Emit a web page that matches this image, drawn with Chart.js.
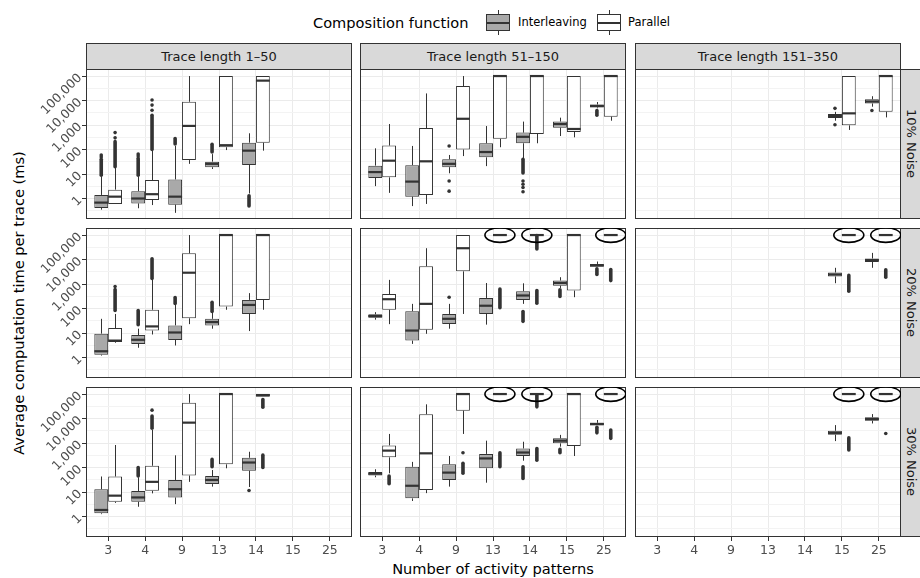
<!DOCTYPE html>
<html>
<head>
<meta charset="utf-8">
<title>Average computation time per trace</title>
<script src="https://cdn.jsdelivr.net/npm/chart.js@4.4.1/dist/chart.umd.min.js"></script>
<style>
    html, body { margin: 0; padding: 0; background: #fff; }
    #page { position: relative; width: 920px; height: 578px; overflow: hidden; font-family: 'DejaVu Sans', sans-serif; }
    #page canvas { position: absolute; }
    .strip { position: absolute; background: #d9d9d9; border: 1px solid #333; box-sizing: border-box; color: #1a1a1a;
             font-size: 13px; display: flex; align-items: center; justify-content: center; white-space: nowrap; }
    .strip.top { top: 43px; height: 26px; width: 266px; border-bottom: none; }
    .strip.side { left: 901px; width: 20px; height: 150px; border-left: none; border-right: none; writing-mode: vertical-rl; }
    .txt { position: absolute; white-space: nowrap; }
    .key { position: absolute; top: 10px; width: 24px; height: 25px; }
    .key .wh { position: absolute; left: 11.5px; top: 0; width: 1px; height: 25px; background: #333; }
    .key .bx { position: absolute; left: 0; top: 4px; width: 24px; height: 17px; border: 1px solid #333; box-sizing: border-box; }
    .key .md { position: absolute; left: 0; top: 11.5px; width: 24px; height: 2px; background: #333; }
</style>
</head>
<body>
<div id="page">
    <div class="txt" style="left:313px; top:22px; transform:translateY(-50%); font-size:14.6px;">Composition function</div>
    <div class="key" style="left:486px;"><div class="wh"></div><div class="bx" style="background:#a9a9a9;"></div><div class="md"></div></div>
    <div class="txt" style="left:518px; top:22px; transform:translateY(-50%); font-size:11.5px;">Interleaving</div>
    <div class="key" style="left:597px;"><div class="wh"></div><div class="bx" style="background:#fff;"></div><div class="md"></div></div>
    <div class="txt" style="left:628px; top:22px; transform:translateY(-50%); font-size:11.5px;">Parallel</div>
    <div class="txt" style="left:18px; top:303px; transform:translate(-50%, -50%) rotate(-90deg); font-size:14.6px;">Average computation time per trace (ms)</div>
    <div class="txt" style="left:493px; top:568px; transform:translate(-50%, -50%); font-size:14.6px;">Number of activity patterns</div>
</div>
<script>
'use strict';

var patterns = ['3', '4', '9', '13', '14', '15', '25'];
var traceLengths = ['Trace length 1\u201350', 'Trace length 51\u2013150', 'Trace length 151\u2013350'];
var noiseLevels = ['10% Noise', '20% Noise', '30% Noise'];
var yLabelTicks = [1, 10, 100, 1000, 10000, 100000];
var yMinorTicks = [0.316, 3.16, 31.6, 316, 3162, 31623];

var T = 100000; // timeout cap

// per pattern: [lower whisker, Q1, median, Q3, upper whisker, outliers ([a, b] = dense run)]
var inter_n10_t1 = [
    [0.35, 0.41, 0.68, 1.4, 8, [[9, 40], 50, 60]],
    [0.4, 0.63, 1.0, 2.0, 8, [[9, 44], 55, 66]],
    [0.26, 0.56, 1.19, 6, 140, [[170, 280]]],
    [16, 19, 26, 32, 65, [[80, 165]]],
    [1.6, 23.5, 90, 190, 460, [[0.5, 1.3]]],
    null, null
];
var par_n10_t1 = [
    [0.6, 0.6, 1.19, 2.3, 18, [[20, 210], 300, 490]],
    [0.54, 0.87, 1.5, 5.7, 90, [[100, 2500], 4000, 6500, 10500]],
    [26, 37, 920, 8900, T],
    [95, 124, 150, T, T],
    [90, 190, 65000, T, T],
    null, null
];
var inter_n10_t2 = [
    [3.2, 6.9, 12, 22, 112],
    [0.49, 1.19, 4.9, 23, 140],
    [10.7, 19, 26, 40, 60, [140, 5.2, 2.0]],
    [21, 48, 79, 180, 910],
    [44, 180, 330, 490, 1380, [[11, 40], 5.2, 3.8, 2.8, 1.9]],
    [355, 780, 1100, 1390, 2000],
    [4800, 5250, 6000, 6900, 8700, [[2500, 3900]]]
];
var par_n10_t2 = [
    [1.7, 7.3, 35, 145, 1100],
    [0.6, 1.4, 33, 750, 19500],
    [54, 100, 1800, 39000, T],
    [124, 275, T, T, T],
    [180, 430, T, T, T],
    [315, 520, 690, T, T],
    [1500, 2200, T, T, T]
];
var inter_n10_t3 = [null, null, null, null, null,
    [1500, 1950, 2350, 2800, 3450, [4800, 1020]],
    [5600, 7600, 9100, 11200, 15000, [3900]]
];
var par_n10_t3 = [null, null, null, null, null,
    [630, 970, 3000, T, T],
    [2050, 3500, T, T, T]
];

var inter_n20_t1 = [
    [1.2, 1.3, 1.8, 9.4, 38],
    [2.5, 3.6, 5.3, 8.2, 15, [[22, 83]]],
    [3.1, 5.2, 10.5, 20.5, 150, [[160, 280]]],
    [15, 20.5, 28, 38, 70, [[76, 180]]],
    [12, 60, 140, 225, 425],
    null, null
];
var par_n20_t1 = [
    [4.0, 4.3, 4.9, 16, 60, [[83, 600], 790]],
    [8.7, 12.6, 18.6, 89, 1500, [[1700, 10700]]],
    [23, 40, 2900, 18000, T],
    [89, 120, T, T, T],
    [89, 225, T, T, T],
    null, null
];
var inter_n20_t2 = [
    [35, 42, 49, 58, 71],
    [3.6, 4.9, 12.6, 78, 155],
    [15, 23.5, 38, 60, 155, [290]],
    [22, 60, 130, 270, 1100],
    [155, 225, 340, 510, 1070, [[30, 76]]],
    [690, 860, 1110, 1390, 1900, [[310, 580]]],
    [5000, 5100, 5800, 6600, 8300, [[2450, 4200]]]
];
var par_n20_t2 = [
    [23, 89, 240, 390, 1480],
    [9.3, 13.7, 155, 5300, 29000],
    [60, 3300, 29000, T, T],
    [T, T, T, T, T, [[107, 630]]],
    [T, T, T, T, T, [[27000, 95000], [165, 540]]],
    [290, 540, T, T, T],
    [T, T, T, T, T, [[1380, 3900]]]
];
var inter_n20_t3 = [null, null, null, null, null,
    [1080, 2040, 2450, 2950, 4600],
    [4600, 8000, 9500, 11000, 18700]
];
var par_n20_t3 = [null, null, null, null, null,
    [T, T, T, T, T, [[510, 2250]]],
    [T, T, T, T, T, [[1900, 3800]]]
];

var inter_n30_t1 = [
    [1.25, 1.35, 1.85, 13, 43],
    [2.5, 4.0, 6.0, 11, 40, [[45, 100]]],
    [3.2, 6.0, 13, 31, 315],
    [16.6, 21, 31, 45, 79, [[107, 215]]],
    [16, 74, 160, 250, 440, [11.5]],
    null, null
];
var par_n30_t1 = [
    [3.6, 4.0, 7.1, 43, 830],
    [8.8, 11.2, 26, 118, 3400, [[4000, 12600], 22000]],
    [26, 47, 6800, 44000, T],
    [93, 135, T, T, T],
    [78000, 78000, 91000, T, T, [[29000, 60000], [100, 320]]],
    null, null
];
var inter_n30_t2 = [
    [40, 47, 56, 66, 85],
    [4.3, 5.5, 18, 107, 170],
    [16.6, 31, 62, 135, 295],
    [24, 93, 235, 360, 1250],
    [190, 295, 410, 600, 1130, [[36, 107]]],
    [710, 970, 1250, 1550, 2150, [[400, 550]]],
    [5200, 5200, 6000, 6700, 8700, [[2600, 4400]]]
];
var par_n30_t2 = [
    [58, 260, 490, 800, 2350, [[22, 45]]],
    [9, 12, 380, 15000, 38000],
    [2350, 21000, T, T, T, [400, [58, 150]]],
    [T, T, T, T, T, [[107, 400]]],
    [T, T, T, T, T, [[30000, 91000], [200, 600]]],
    [295, 760, T, T, T],
    [T, T, T, T, T, [[1550, 3400]]]
];
var inter_n30_t3 = [null, null, null, null, null,
    [1200, 2190, 2600, 3150, 5400],
    [6300, 8200, 9500, 11200, 15200]
];
var par_n30_t3 = [null, null, null, null, null,
    [T, T, T, T, T, [[520, 1650]]],
    [T, T, T, T, T, [2450]]
];

// parallel runs circled because they all hit the timeout
var capped_n20_t2 = ['13', '14', '25'];
var capped_n20_t3 = ['15', '25'];
var capped_n30_t2 = ['13', '14', '25'];
var capped_n30_t3 = ['15', '25'];

var grid = [
    [[inter_n10_t1, par_n10_t1, []], [inter_n10_t2, par_n10_t2, []], [inter_n10_t3, par_n10_t3, []]],
    [[inter_n20_t1, par_n20_t1, []], [inter_n20_t2, par_n20_t2, capped_n20_t2], [inter_n20_t3, par_n20_t3, capped_n20_t3]],
    [[inter_n30_t1, par_n30_t1, []], [inter_n30_t2, par_n30_t2, capped_n30_t2], [inter_n30_t3, par_n30_t3, capped_n30_t3]]
];

var colLeft = [86, 360, 635];
var rowTop = [69, 228, 387];
var panelW = 266, panelH = 150;
var yAxisW = 70, xAxisH = 24;
var dark = '#333333';
var fontFamily = "'DejaVu Sans', sans-serif";

function toBars(stats) {
    var bars = [];
    stats.forEach(function (s, i) {
        if (!s) return;
        bars.push({ x: i + 1, y: [s[1], s[3]], lo: s[0], med: s[2], hi: s[4], out: s[5] || [] });
    });
    return bars;
}

var boxPlugin = {
    id: 'boxWhiskers',
    afterDatasetsDraw: function (chart, args, opts) {
        var ctx = chart.ctx;
        var ys = chart.scales.y;
        var a = chart.chartArea;

        ctx.save();
        ctx.beginPath();
        ctx.rect(a.left, a.top, a.right - a.left, a.bottom - a.top);
        ctx.clip();
        ctx.strokeStyle = dark;
        ctx.fillStyle = dark;
        chart.data.datasets.forEach(function (ds, di) {
            chart.getDatasetMeta(di).data.forEach(function (bar, i) {
                var d = ds.data[i];
                var x = bar.x, w = bar.width;
                var lx = Math.round(x) + 0.5;

                d.out.forEach(function (o) {
                    if (Array.isArray(o)) {
                        ctx.lineWidth = 3.6;
                        ctx.lineCap = 'round';
                        ctx.beginPath();
                        ctx.moveTo(x, ys.getPixelForValue(o[0]));
                        ctx.lineTo(x, ys.getPixelForValue(o[1]));
                        ctx.stroke();
                    } else {
                        ctx.beginPath();
                        ctx.arc(x, ys.getPixelForValue(o), 1.8, 0, Math.PI * 2);
                        ctx.fill();
                    }
                });

                ctx.lineWidth = 1;
                ctx.lineCap = 'butt';
                ctx.beginPath();
                ctx.moveTo(lx, ys.getPixelForValue(d.y[1]));
                ctx.lineTo(lx, ys.getPixelForValue(d.hi));
                ctx.moveTo(lx, ys.getPixelForValue(d.y[0]));
                ctx.lineTo(lx, ys.getPixelForValue(d.lo));
                ctx.stroke();

                ctx.lineWidth = 2.2;
                ctx.beginPath();
                ctx.moveTo(x - w / 2, ys.getPixelForValue(d.med));
                ctx.lineTo(x + w / 2, ys.getPixelForValue(d.med));
                ctx.stroke();
            });
        });
        ctx.restore();

        ctx.save();
        ctx.strokeStyle = dark;
        ctx.lineWidth = 1;
        ctx.strokeRect(a.left + 0.5, a.top + 0.5, a.right - a.left - 1, a.bottom - a.top - 1);

        // ellipses round the capped parallel boxes
        var parMeta = chart.getDatasetMeta(1);
        ctx.strokeStyle = '#000';
        ctx.lineWidth = 1.6;
        opts.capped.forEach(function (p) {
            var idx = patterns.indexOf(p) + 1;
            parMeta.data.forEach(function (bar, i) {
                if (chart.data.datasets[1].data[i].x !== idx) return;
                ctx.beginPath();
                ctx.ellipse(bar.x, ys.getPixelForValue(T), 15, 7.3, 0, 0, Math.PI * 2);
                ctx.stroke();
            });
        });
        ctx.restore();
    }
};

function makePanel(row, col) {
    var cell = grid[row][col];
    var leftAxis = col === 0 ? yAxisW : 0;
    var bottomAxis = row === 2 ? xAxisH : 0;

    var canvas = document.createElement('canvas');
    canvas.width = panelW + leftAxis;
    canvas.height = panelH + bottomAxis;
    canvas.style.left = (colLeft[col] - leftAxis) + 'px';
    canvas.style.top = rowTop[row] + 'px';
    document.getElementById('page').appendChild(canvas);

    var yTicks = yMinorTicks.map(function (v) { return { value: v, minor: true }; })
        .concat(yLabelTicks.map(function (v) { return { value: v, minor: false }; }))
        .sort(function (p, q) { return p.value - q.value; });

    return new Chart(canvas, {
        type: 'bar',
        data: {
            datasets: [
                {
                    label: 'Interleaving',
                    data: toBars(cell[0]),
                    backgroundColor: '#a9a9a9',
                    borderColor: dark,
                    borderWidth: 1,
                    borderSkipped: false,
                    categoryPercentage: 0.75,
                    barPercentage: 1
                },
                {
                    label: 'Parallel',
                    data: toBars(cell[1]),
                    backgroundColor: '#ffffff',
                    borderColor: dark,
                    borderWidth: 1,
                    borderSkipped: false,
                    categoryPercentage: 0.75,
                    barPercentage: 1
                }
            ]
        },
        options: {
            responsive: false,
            animation: false,
            events: [],
            layout: { padding: 0 },
            plugins: {
                legend: { display: false },
                tooltip: { enabled: false },
                boxWhiskers: { capped: cell[2] }
            },
            scales: {
                x: {
                    type: 'linear',
                    position: 'bottom',
                    min: 0.4,
                    max: 7.6,
                    offset: false,
                    border: { display: false },
                    grid: { offset: false, color: '#ebebeb', lineWidth: 1, drawTicks: row === 2, tickLength: 4, tickColor: dark },
                    ticks: {
                        display: row === 2,
                        autoSkip: false,
                        maxRotation: 0,
                        padding: 2,
                        color: '#4d4d4d',
                        font: { family: fontFamily, size: 12.5 },
                        callback: function (v) { return patterns[v - 1] || ''; }
                    },
                    afterBuildTicks: function (s) {
                        s.ticks = patterns.map(function (p, i) { return { value: i + 1 }; });
                    },
                    afterFit: function (s) {
                        s.height = bottomAxis;
                        s.paddingLeft = 0;
                        s.paddingRight = 0;
                    }
                },
                y: {
                    type: 'logarithmic',
                    position: 'left',
                    min: 0.1456,
                    max: 194000,
                    bounds: 'data',
                    border: { display: false },
                    grid: {
                        color: function (c) { return c.tick && c.tick.minor ? '#f3f3f3' : '#ebebeb'; },
                        lineWidth: 1,
                        drawTicks: col === 0,
                        tickLength: 4,
                        tickColor: function (c) { return c.tick && c.tick.minor ? 'rgba(0,0,0,0)' : dark; }
                    },
                    ticks: {
                        display: col === 0,
                        autoSkip: false,
                        minRotation: 45,
                        maxRotation: 45,
                        padding: 2,
                        color: '#4d4d4d',
                        font: { family: fontFamily, size: 12.5 },
                        callback: function (v, i, ticks) {
                            return ticks[i].minor ? '' : Number(v).toLocaleString('en-US');
                        }
                    },
                    afterBuildTicks: function (s) {
                        s.ticks = yTicks.map(function (t) { return { value: t.value, minor: t.minor }; });
                    },
                    afterFit: function (s) {
                        s.width = leftAxis;
                        s.paddingTop = 0;
                        s.paddingBottom = 0;
                    }
                }
            }
        },
        plugins: [boxPlugin]
    });
}

var page = document.getElementById('page');
traceLengths.forEach(function (t, c) {
    var el = document.createElement('div');
    el.className = 'strip top';
    el.style.left = colLeft[c] + 'px';
    el.textContent = t;
    page.appendChild(el);
});
noiseLevels.forEach(function (n, r) {
    var el = document.createElement('div');
    el.className = 'strip side';
    el.style.top = rowTop[r] + 'px';
    el.textContent = n;
    page.appendChild(el);
});

for (var r = 0; r < 3; r++) {
    for (var c = 0; c < 3; c++) {
        makePanel(r, c);
    }
}
</script>
</body>
</html>
